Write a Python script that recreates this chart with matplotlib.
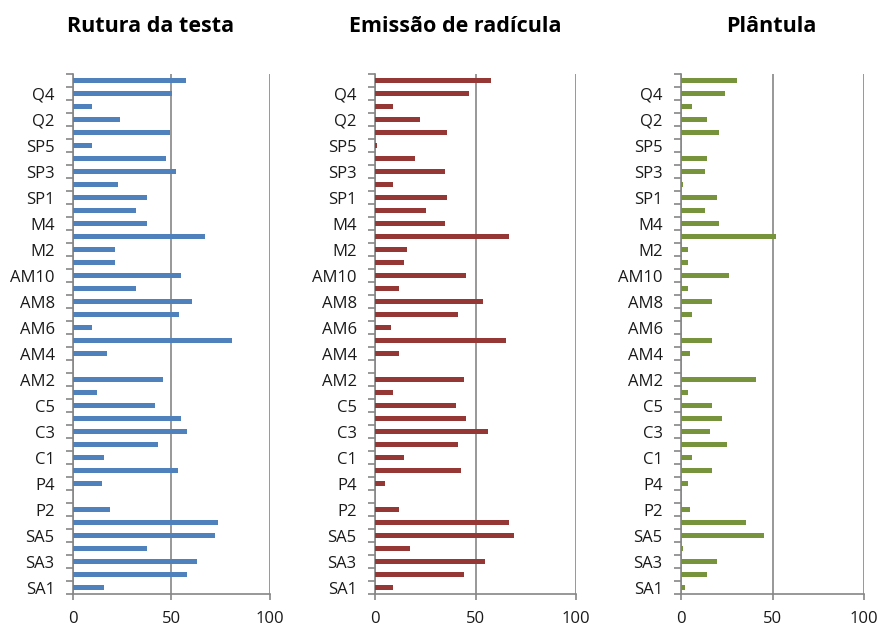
import matplotlib.pyplot as plt
import numpy as np

plt.rcParams['font.family'] = ['Open Sans', 'DejaVu Sans']

# amostras, de baixo para cima
categories = (['SA%d' % i for i in range(1, 6)] +
              ['P%d' % i for i in range(1, 6)] +
              ['C%d' % i for i in range(1, 6)] +
              ['AM%d' % i for i in range(1, 11)] +
              ['M%d' % i for i in range(1, 6)] +
              ['SP%d' % i for i in range(1, 6)] +
              ['Q%d' % i for i in range(1, 6)])

rutura = [16.0, 57.8, 63.2, 37.5, 72.3,
          73.6, 18.8, 0, 14.7, 53.5,
          16.0, 43.1, 57.8, 54.9, 41.7,
          12.3, 45.8, 0, 17.4, 80.6, 9.6, 53.7, 60.5, 32.1, 54.9,
          21.6, 21.6, 66.9, 37.7, 32.1,
          37.7, 23.0, 52.2, 47.1, 9.6,
          49.3, 24.2, 9.6, 50.5, 57.6]

radicula = [9.3, 44.1, 54.9, 17.4, 69.3,
            66.6, 11.9, 0, 5.3, 42.8,
            14.5, 41.5, 56.2, 45.5, 40.2,
            9.3, 44.1, 0, 11.9, 65.3, 7.9, 41.5, 53.6, 11.9, 45.5,
            14.5, 15.9, 66.4, 34.7, 25.3,
            36.0, 9.3, 34.7, 20.0, 1.2,
            36.0, 22.6, 9.3, 46.8, 57.5]

plantula = [2.2, 14.5, 20.0, 1.3, 45.6,
            35.8, 5.3, 0, 3.8, 17.1,
            6.4, 25.4, 16.0, 22.5, 17.1,
            3.8, 41.2, 0, 5.3, 17.1, 0, 6.2, 17.1, 3.8, 26.5,
            3.8, 3.8, 52.1, 21.1, 13.2,
            20.0, 1.3, 13.2, 14.5, 0,
            21.1, 14.5, 6.2, 24.0, 30.9]

titles = ['Rutura da testa', 'Emissão de radícula', 'Plântula']
colors = ['#4F81BD', '#953735', '#77933C']
series = [rutura, radicula, plantula]

# posições dos eixos em pixels (esquerda, direita)
W, H = 881, 625
ax_x = [(72.7, 270.0), (374.7, 576.3), (680.7, 864.3)]
ax_top, ax_bot = 74, 594
title_x = [151, 455, 771]

fig = plt.figure(figsize=(W / 100, H / 100), dpi=100)
y = np.arange(len(categories))

for (x0, x1), vals, col, tit, tx in zip(ax_x, series, colors, titles, title_x):
    ax = fig.add_axes([x0 / W, 1 - ax_bot / H, (x1 - x0) / W, (ax_bot - ax_top) / H])
    ax.barh(y, vals, height=0.42, color=col, zorder=3)
    ax.set_xlim(0, 100)
    ax.set_ylim(-0.5, len(categories) - 0.5)
    ax.set_xticks([0, 50, 100])
    ax.xaxis.grid(True, color='#868686', linewidth=1.2, zorder=0)
    ax.set_yticks(y[::2])
    ax.set_yticklabels(categories[::2])
    ax.set_yticks(np.arange(-0.5, len(categories), 1), minor=True)
    ax.tick_params(axis='y', which='major', length=0, pad=13, labelsize=12, labelcolor='#1a1a1a')
    ax.tick_params(axis='y', which='minor', length=5, width=1.2, color='#868686')
    ax.tick_params(axis='x', length=4, width=1.2, color='#868686', labelsize=12,
                   labelcolor='#1a1a1a', pad=8)
    for s in ['top', 'right']:
        ax.spines[s].set_visible(False)
    for s in ['left', 'bottom']:
        ax.spines[s].set_color('#868686')
        ax.spines[s].set_linewidth(1.2)
    fig.text(tx / W, 1 - 26 / H, tit, ha='center', va='center',
             fontsize=15.5, fontweight='bold', color='black')

fig.savefig('out.png', dpi=100)
